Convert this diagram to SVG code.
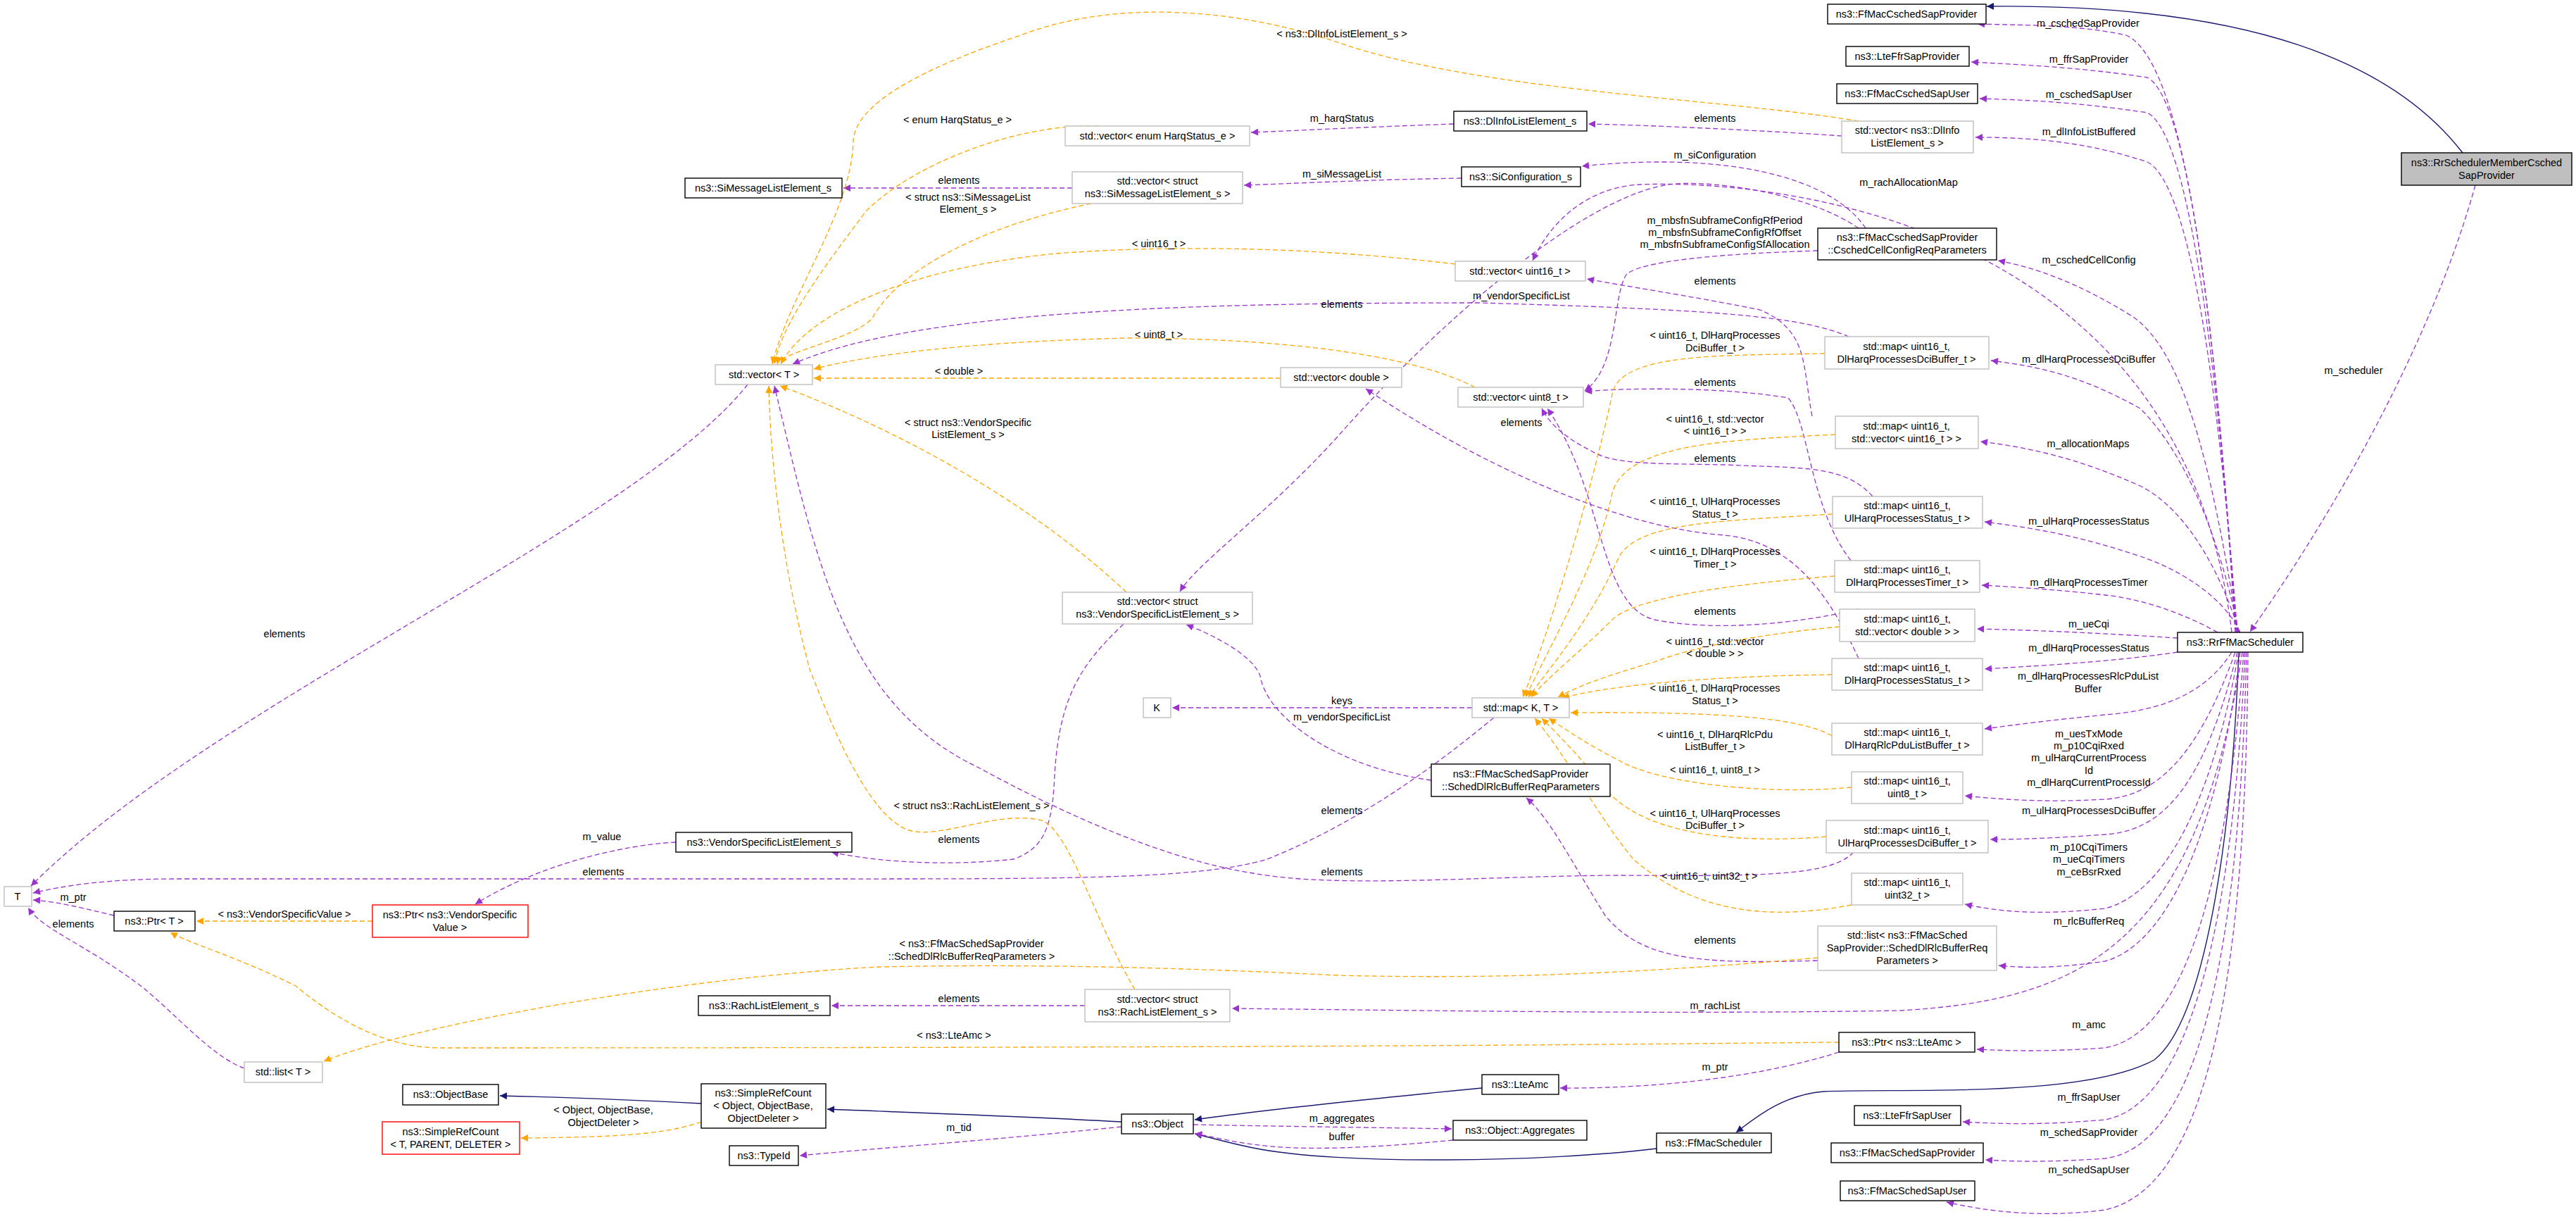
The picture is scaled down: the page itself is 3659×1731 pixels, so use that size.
<svg xmlns="http://www.w3.org/2000/svg" width="3659" height="1731" viewBox="0 0 3659 1731">
<style>
text{font-family:"Liberation Sans",Arial,sans-serif;font-size:14.5px;fill:#000;text-anchor:middle}
.b{fill:#fff;stroke:#000;stroke-width:1.4}
.g{fill:#fff;stroke:#bfbfbf;stroke-width:1.4}
.r{fill:#fff;stroke:#f00;stroke-width:1.4}
.m{fill:#bfbfbf;stroke:#000;stroke-width:1.4}
.u{fill:none;stroke:#9a32cd;stroke-width:1.3;stroke-dasharray:7,4;marker-end:url(#mp)}
.t{fill:none;stroke:#ffa500;stroke-width:1.3;stroke-dasharray:7,4;marker-end:url(#mo)}
.i{fill:none;stroke:#191970;stroke-width:1.4;marker-end:url(#mb)}
</style>
<defs>
<marker id="mp" viewBox="0 0 10 10" refX="10" refY="5" markerWidth="12" markerHeight="10" markerUnits="userSpaceOnUse" orient="auto"><path d="M0,0L10,5L0,10z" fill="#9a32cd"/></marker>
<marker id="mo" viewBox="0 0 10 10" refX="10" refY="5" markerWidth="12" markerHeight="10" markerUnits="userSpaceOnUse" orient="auto"><path d="M0,0L10,5L0,10z" fill="#ffa500"/></marker>
<marker id="mb" viewBox="0 0 10 10" refX="10" refY="5" markerWidth="12" markerHeight="10" markerUnits="userSpaceOnUse" orient="auto"><path d="M0,0L10,5L0,10z" fill="#191970"/></marker>
</defs>
<rect width="3659" height="1731" fill="#fff"/>
<g id="connectors">
<path class="i" d="M3498,217 C3400,90 3200,5 2822,9"/>
<path class="i" d="M3180,926 C3170,1200 3130,1450 3060,1505 C2960,1560 2700,1545 2590,1550 C2530,1555 2490,1590 2466,1608"/>
<path class="i" d="M2353,1631 C2200,1650 1900,1655 1780,1630 C1740,1622 1715,1614 1697,1610"/>
<path class="i" d="M2105,1545 C1950,1560 1800,1575 1697,1590"/>
<path class="i" d="M1593,1593 C1450,1585 1300,1580 1175,1575"/>
<path class="i" d="M996,1567 C900,1562 800,1558 710,1556"/>

<path class="u" d="M3175,898 C3150,500 3110,90 3020,50 C2950,35 2880,36 2809,34"/>
<path class="u" d="M3176,898 C3150,500 3110,140 3050,110 C2950,95 2870,92 2800,88"/>
<path class="u" d="M3177,898 C3150,520 3110,190 3050,160 C2950,145 2880,142 2812,140"/>
<path class="u" d="M3178,898 C3150,540 3110,260 3050,230 C2960,200 2880,195 2806,195"/>
<path class="u" d="M3170,898 C3100,300 2500,255 2330,262 C2250,266 2200,320 2177,370"/>
<path class="u" d="M3179,898 C3140,650 3100,500 3030,450 C2950,400 2890,380 2838,370"/>
<path class="u" d="M3180,898 C3150,750 3100,640 3040,580 C2950,530 2890,520 2828,512"/>
<path class="u" d="M3181,898 C3150,800 3100,720 3040,690 C2950,650 2880,635 2813,627"/>
<path class="u" d="M3182,898 C3160,850 3100,810 3040,790 C2950,760 2890,750 2819,741"/>
<path class="u" d="M3150,898 C3100,870 3040,850 2990,845 C2930,838 2870,834 2815,831"/>
<path class="u" d="M3093,906 C3000,900 2900,895 2808,893"/>
<path class="u" d="M3093,926 C3000,940 2900,945 2819,950"/>
<path class="u" d="M3170,926 C3130,990 3060,1010 2990,1015 C2920,1022 2870,1028 2819,1035"/>
<path class="u" d="M3175,926 C3120,1080 3060,1130 2990,1135 C2900,1140 2840,1135 2791,1130"/>
<path class="u" d="M3178,926 C3130,1120 3070,1180 2990,1185 C2920,1190 2870,1192 2827,1192"/>
<path class="u" d="M3180,926 C3140,1150 3070,1270 2990,1290 C2900,1300 2840,1295 2791,1284"/>
<path class="u" d="M3182,926 C3150,1180 3080,1340 2990,1365 C2920,1375 2880,1375 2839,1371"/>
<path class="u" d="M3185,926 C3120,1350 2950,1420 2700,1435 C2400,1440 2100,1436 1750,1432"/>
<path class="u" d="M3187,926 C3160,1300 3090,1470 2990,1488 C2900,1494 2850,1492 2808,1490"/>
<path class="u" d="M3189,926 C3170,1350 3100,1570 2990,1590 C2900,1598 2840,1596 2788,1593"/>
<path class="u" d="M3191,926 C3180,1400 3110,1630 2990,1645 C2920,1650 2870,1650 2820,1647"/>
<path class="u" d="M3193,926 C3190,1450 3120,1690 2990,1718 C2900,1730 2820,1720 2765,1707"/>
<path class="u" d="M3516,263 C3450,500 3300,750 3196,897"/>

<path class="u" d="M2616,193 C2500,185 2350,178 2256,176"/>
<path class="u" d="M2065,176 C1950,180 1850,185 1777,188"/>
<path class="u" d="M2076,253 C1950,255 1850,260 1767,263"/>
<path class="u" d="M1523,267 L1198,267"/>
<path class="u" d="M2650,324 C2600,250 2450,215 2247,236"/>
<path class="u" d="M2582,356 C2450,360 2330,370 2310,390 C2290,420 2300,520 2251,555"/>
<path class="u" d="M2640,324 C2560,270 2420,255 2370,262 C2250,280 2050,450 1900,620 C1800,730 1700,800 1676,840"/>
<path class="u" d="M2574,591 C2560,520 2570,470 2500,440 C2400,420 2300,405 2254,396"/>
<path class="u" d="M2626,478 C2560,450 2450,440 2100,430 C1700,430 1300,440 1126,517"/>
<path class="u" d="M2629,796 C2570,720 2570,600 2540,565 C2450,550 2320,550 2251,556"/>
<path class="u" d="M2660,705 C2620,660 2560,665 2450,660 C2350,658 2290,660 2260,640 C2220,620 2200,600 2190,580"/>
<path class="u" d="M2640,935 C2600,850 2550,770 2450,760 C2300,750 2100,660 1940,552"/>
<path class="u" d="M2640,865 C2580,880 2450,900 2350,880 C2270,860 2280,700 2198,580"/>
<path class="u" d="M2091,1005 L1665,1005"/>
<path class="u" d="M2033,1108 C1900,1090 1800,1020 1790,960 C1780,930 1720,900 1685,887"/>
<path class="u" d="M2582,1364 C2400,1370 2330,1360 2280,1300 C2230,1220 2200,1160 2168,1133"/>
<path class="u" d="M2122,1019 C2000,1120 1900,1180 1800,1220 C1700,1250 1500,1248 1100,1248 L250,1248 C150,1248 90,1258 47,1268"/>
<path class="u" d="M2633,1210 C2600,1245 2500,1244 2300,1243 C2100,1244 1900,1262 1780,1240 C1650,1220 1500,1150 1390,1090 C1200,1000 1160,800 1100,548"/>
<path class="u" d="M1596,886 C1540,940 1505,983 1498,1100 C1495,1180 1480,1205 1440,1220 C1350,1230 1250,1225 1181,1210"/>
<path class="u" d="M1541,1428 L1181,1428"/>
<path class="u" d="M1062,546 C900,750 300,1000 44,1258"/>
<path class="u" d="M960,1196 C880,1200 760,1230 675,1284"/>
<path class="u" d="M162,1300 C120,1290 80,1280 47,1278"/>
<path class="u" d="M347,1517 C300,1500 250,1440 200,1400 C120,1340 60,1320 40,1289"/>
<path class="u" d="M1695,1597 C1850,1600 1950,1601 2062,1603"/>
<path class="u" d="M2064,1619 C1950,1630 1850,1635 1780,1625 C1740,1620 1720,1613 1697,1610"/>
<path class="u" d="M1593,1600 C1400,1620 1250,1630 1136,1641"/>
<path class="u" d="M2612,1494 C2500,1530 2350,1546 2216,1545"/>

<path class="t" d="M2640,172 C2450,140 2100,130 1900,60 C1750,10 1580,0 1450,50 C1300,100 1215,150 1212,200 C1210,300 1120,420 1097,517"/>
<path class="t" d="M1560,179 C1450,175 1300,230 1230,300 C1170,380 1110,460 1100,517"/>
<path class="t" d="M1550,289 C1400,320 1280,380 1240,450 C1220,480 1108,500 1104,517"/>
<path class="t" d="M2067,375 C1900,355 1700,345 1500,360 C1300,380 1150,440 1109,517"/>
<path class="t" d="M2095,550 C2000,500 1800,480 1600,480 C1400,485 1250,500 1156,524"/>
<path class="t" d="M1819,537 L1156,537"/>
<path class="t" d="M1600,841 C1450,700 1250,600 1108,548"/>
<path class="t" d="M1612,1405 C1560,1320 1520,1180 1480,1165 C1420,1150 1340,1190 1295,1180 C1230,1165 1170,1000 1150,950 C1110,800 1094,650 1092,548"/>
<path class="t" d="M2592,502 C2450,505 2300,500 2290,560 C2260,700 2200,900 2163,990"/>
<path class="t" d="M2607,617 C2450,625 2310,630 2290,700 C2270,800 2200,920 2167,990"/>
<path class="t" d="M2603,730 C2450,740 2330,740 2300,790 C2260,880 2200,950 2171,990"/>
<path class="t" d="M2606,818 C2450,830 2320,850 2290,880 C2240,930 2200,960 2175,990"/>
<path class="t" d="M2613,890 C2500,900 2400,920 2350,940 C2280,960 2240,975 2213,990"/>
<path class="t" d="M2602,958 C2450,960 2300,970 2219,991"/>
<path class="t" d="M2602,1045 C2560,1020 2450,1010 2231,1012"/>
<path class="t" d="M2630,1118 C2500,1130 2350,1110 2300,1080 C2260,1060 2230,1040 2200,1020"/>
<path class="t" d="M2594,1188 C2450,1200 2330,1180 2280,1120 C2250,1080 2210,1040 2190,1020"/>
<path class="t" d="M2630,1285 C2500,1310 2400,1290 2320,1220 C2270,1160 2230,1080 2180,1020"/>
<path class="t" d="M529,1308 L279,1308"/>
<path class="t" d="M2612,1480 L2400,1482 C1800,1488 800,1488 625,1488 C550,1488 480,1450 420,1400 C340,1360 270,1340 242,1324"/>
<path class="t" d="M2582,1360 C2300,1385 2100,1390 1900,1385 C1600,1370 1400,1370 1250,1373 C1000,1385 600,1450 460,1507"/>
<path class="t" d="M996,1593 C950,1610 880,1615 740,1616"/>

<text x="2966" y="38">m_cschedSapProvider</text>
<text x="2967" y="89">m_ffrSapProvider</text>
<text x="2967" y="139">m_cschedSapUser</text>
<text x="2967" y="192">m_dlInfoListBuffered</text>
<text x="2711" y="264">m_rachAllocationMap</text>
<text x="2967" y="374">m_cschedCellConfig</text>
<text x="2967" y="515">m_dlHarqProcessesDciBuffer</text>
<text x="3343" y="531">m_scheduler</text>
<text x="2966" y="635">m_allocationMaps</text>
<text x="2967" y="745">m_ulHarqProcessesStatus</text>
<text x="2967" y="832">m_dlHarqProcessesTimer</text>
<text x="2967" y="891">m_ueCqi</text>
<text x="2967" y="925">m_dlHarqProcessesStatus</text>
<text x="2966" y="965">m_dlHarqProcessesRlcPduList</text>
<text x="2966" y="983">Buffer</text>
<text x="2967" y="1047">m_uesTxMode</text>
<text x="2967" y="1064">m_p10CqiRxed</text>
<text x="2967" y="1081">m_ulHarqCurrentProcess</text>
<text x="2967" y="1099">Id</text>
<text x="2967" y="1116">m_dlHarqCurrentProcessId</text>
<text x="2967" y="1156">m_ulHarqProcessesDciBuffer</text>
<text x="2967" y="1208">m_p10CqiTimers</text>
<text x="2967" y="1225">m_ueCqiTimers</text>
<text x="2967" y="1243">m_ceBsrRxed</text>
<text x="2967" y="1313">m_rlcBufferReq</text>
<text x="2967" y="1460">m_amc</text>
<text x="2967" y="1563">m_ffrSapUser</text>
<text x="2967" y="1613">m_schedSapProvider</text>
<text x="2967" y="1666">m_schedSapUser</text>
<text x="2436" y="1433">m_rachList</text>
<text x="2436" y="1520">m_ptr</text>
<text x="1906" y="53">&lt; ns3::DlInfoListElement_s &gt;</text>
<text x="1906" y="173">m_harqStatus</text>
<text x="2436" y="173">elements</text>
<text x="1906" y="252">m_siMessageList</text>
<text x="2436" y="225">m_siConfiguration</text>
<text x="2450" y="318">m_mbsfnSubframeConfigRfPeriod</text>
<text x="2450" y="335">m_mbsfnSubframeConfigRfOffset</text>
<text x="2450" y="352">m_mbsfnSubframeConfigSfAllocation</text>
<text x="1646" y="351">&lt; uint16_t &gt;</text>
<text x="2436" y="404">elements</text>
<text x="2161" y="425">m_vendorSpecificList</text>
<text x="1906" y="437">elements</text>
<text x="1646" y="480">&lt; uint8_t &gt;</text>
<text x="2436" y="481">&lt; uint16_t, DlHarqProcesses</text>
<text x="2436" y="499">DciBuffer_t &gt;</text>
<text x="2436" y="548">elements</text>
<text x="2161" y="605">elements</text>
<text x="2436" y="600">&lt; uint16_t, std::vector</text>
<text x="2436" y="617">&lt; uint16_t &gt; &gt;</text>
<text x="2436" y="656">elements</text>
<text x="2436" y="717">&lt; uint16_t, UlHarqProcesses</text>
<text x="2436" y="735">Status_t &gt;</text>
<text x="2436" y="788">&lt; uint16_t, DlHarqProcesses</text>
<text x="2436" y="806">Timer_t &gt;</text>
<text x="2436" y="873">elements</text>
<text x="2436" y="916">&lt; uint16_t, std::vector</text>
<text x="2436" y="933">&lt; double &gt; &gt;</text>
<text x="2436" y="982">&lt; uint16_t, DlHarqProcesses</text>
<text x="2436" y="1000">Status_t &gt;</text>
<text x="1906" y="1000">keys</text>
<text x="1906" y="1023">m_vendorSpecificList</text>
<text x="2436" y="1048">&lt; uint16_t, DlHarqRlcPdu</text>
<text x="2436" y="1065">ListBuffer_t &gt;</text>
<text x="2436" y="1098">&lt; uint16_t, uint8_t &gt;</text>
<text x="2436" y="1160">&lt; uint16_t, UlHarqProcesses</text>
<text x="2436" y="1177">DciBuffer_t &gt;</text>
<text x="1906" y="1156">elements</text>
<text x="1906" y="1243">elements</text>
<text x="2428" y="1249">&lt; uint16_t, uint32_t &gt;</text>
<text x="2436" y="1340">elements</text>
<text x="1906" y="1593">m_aggregates</text>
<text x="1906" y="1619">buffer</text>
<text x="1362" y="1606">m_tid</text>
<text x="1360" y="175">&lt; enum HarqStatus_e &gt;</text>
<text x="1362" y="261">elements</text>
<text x="1375" y="285">&lt; struct ns3::SiMessageList</text>
<text x="1375" y="302">Element_s &gt;</text>
<text x="1362" y="532">&lt; double &gt;</text>
<text x="1375" y="605">&lt; struct ns3::VendorSpecific</text>
<text x="1375" y="622">ListElement_s &gt;</text>
<text x="404" y="905">elements</text>
<text x="1380" y="1149">&lt; struct ns3::RachListElement_s &gt;</text>
<text x="855" y="1193">m_value</text>
<text x="1362" y="1197">elements</text>
<text x="857" y="1243">elements</text>
<text x="104" y="1279">m_ptr</text>
<text x="104" y="1317">elements</text>
<text x="404" y="1303">&lt; ns3::VendorSpecificValue &gt;</text>
<text x="1380" y="1345">&lt; ns3::FfMacSchedSapProvider</text>
<text x="1380" y="1363">::SchedDlRlcBufferReqParameters &gt;</text>
<text x="1362" y="1423">elements</text>
<text x="1355" y="1475">&lt; ns3::LteAmc &gt;</text>
<text x="857" y="1581">&lt; Object, ObjectBase,</text>
<text x="857" y="1599">ObjectDeleter &gt;</text>
</g>

<g id="n_rrmember"><rect class="m" x="3411" y="217" width="242" height="46"/><text x="3532" y="236">ns3::RrSchedulerMemberCsched</text><text x="3532" y="254">SapProvider</text></g>
<g id="n_cschedProv"><rect class="b" x="2596" y="6" width="225" height="28"/><text x="2708" y="25">ns3::FfMacCschedSapProvider</text></g>
<g id="n_ffrProv"><rect class="b" x="2622" y="66" width="175" height="28"/><text x="2709" y="85">ns3::LteFfrSapProvider</text></g>
<g id="n_cschedUser"><rect class="b" x="2609" y="119" width="200" height="28"/><text x="2709" y="138">ns3::FfMacCschedSapUser</text></g>
<g id="n_vecDlInfo"><rect class="g" x="2616" y="172" width="187" height="45"/><text x="2709" y="190">std::vector&lt; ns3::DlInfo</text><text x="2709" y="208">ListElement_s &gt;</text></g>
<g id="n_cellCfg"><rect class="b" x="2582" y="324" width="254" height="45"/><text x="2709" y="342">ns3::FfMacCschedSapProvider</text><text x="2709" y="360">::CschedCellConfigReqParameters</text></g>
<g id="n_mapDci"><rect class="g" x="2592" y="478" width="233" height="46"/><text x="2708" y="497">std::map&lt; uint16_t,</text><text x="2708" y="515">DlHarqProcessesDciBuffer_t &gt;</text></g>
<g id="n_mapVec16"><rect class="g" x="2607" y="591" width="203" height="46"/><text x="2708" y="610">std::map&lt; uint16_t,</text><text x="2708" y="628">std::vector&lt; uint16_t &gt; &gt;</text></g>
<g id="n_mapUlStat"><rect class="g" x="2603" y="705" width="213" height="45"/><text x="2709" y="723">std::map&lt; uint16_t,</text><text x="2709" y="741">UlHarqProcessesStatus_t &gt;</text></g>
<g id="n_mapDlTimer"><rect class="g" x="2606" y="796" width="206" height="45"/><text x="2709" y="814">std::map&lt; uint16_t,</text><text x="2709" y="832">DlHarqProcessesTimer_t &gt;</text></g>
<g id="n_mapVecD"><rect class="g" x="2613" y="865" width="192" height="46"/><text x="2709" y="884">std::map&lt; uint16_t,</text><text x="2709" y="902">std::vector&lt; double &gt; &gt;</text></g>
<g id="n_mapDlStat"><rect class="g" x="2602" y="935" width="214" height="45"/><text x="2709" y="953">std::map&lt; uint16_t,</text><text x="2709" y="971">DlHarqProcessesStatus_t &gt;</text></g>
<g id="n_sched"><rect class="b" x="3093" y="898" width="178" height="28"/><text x="3182" y="917">ns3::RrFfMacScheduler</text></g>
<g id="n_mapRlc"><rect class="g" x="2602" y="1027" width="214" height="45"/><text x="2709" y="1045">std::map&lt; uint16_t,</text><text x="2709" y="1063">DlHarqRlcPduListBuffer_t &gt;</text></g>
<g id="n_mapU8"><rect class="g" x="2630" y="1096" width="158" height="45"/><text x="2709" y="1114">std::map&lt; uint16_t,</text><text x="2709" y="1132">uint8_t &gt;</text></g>
<g id="n_mapUlDci"><rect class="g" x="2594" y="1165" width="230" height="46"/><text x="2709" y="1184">std::map&lt; uint16_t,</text><text x="2709" y="1202">UlHarqProcessesDciBuffer_t &gt;</text></g>
<g id="n_mapU32"><rect class="g" x="2630" y="1240" width="158" height="45"/><text x="2709" y="1258">std::map&lt; uint16_t,</text><text x="2709" y="1276">uint32_t &gt;</text></g>
<g id="n_listRlc"><rect class="g" x="2582" y="1315" width="254" height="63"/><text x="2709" y="1333">std::list&lt; ns3::FfMacSched</text><text x="2709" y="1351">SapProvider::SchedDlRlcBufferReq</text><text x="2709" y="1369">Parameters &gt;</text></g>
<g id="n_ptrAmc"><rect class="b" x="2612" y="1466" width="193" height="28"/><text x="2708" y="1485">ns3::Ptr&lt; ns3::LteAmc &gt;</text></g>
<g id="n_ffrUser"><rect class="b" x="2634" y="1570" width="151" height="28"/><text x="2709" y="1589">ns3::LteFfrSapUser</text></g>
<g id="n_schedProv"><rect class="b" x="2601" y="1623" width="216" height="28"/><text x="2709" y="1642">ns3::FfMacSchedSapProvider</text></g>
<g id="n_schedUser"><rect class="b" x="2614" y="1677" width="191" height="28"/><text x="2709" y="1696">ns3::FfMacSchedSapUser</text></g>
<g id="n_ffsched"><rect class="b" x="2353" y="1609" width="163" height="28"/><text x="2434" y="1628">ns3::FfMacScheduler</text></g>
<g id="n_dlInfo"><rect class="b" x="2065" y="158" width="189" height="28"/><text x="2159" y="177">ns3::DlInfoListElement_s</text></g>
<g id="n_vecHarq"><rect class="g" x="1513" y="179" width="262" height="28"/><text x="1644" y="198">std::vector&lt; enum HarqStatus_e &gt;</text></g>
<g id="n_siCfg"><rect class="b" x="2076" y="237" width="169" height="28"/><text x="2160" y="256">ns3::SiConfiguration_s</text></g>
<g id="n_vecSiMsg"><rect class="g" x="1523" y="244" width="242" height="45"/><text x="1644" y="262">std::vector&lt; struct</text><text x="1644" y="280">ns3::SiMessageListElement_s &gt;</text></g>
<g id="n_vec16"><rect class="g" x="2067" y="371" width="185" height="28"/><text x="2159" y="390">std::vector&lt; uint16_t &gt;</text></g>
<g id="n_vecD"><rect class="g" x="1819" y="522" width="172" height="28"/><text x="1905" y="541">std::vector&lt; double &gt;</text></g>
<g id="n_vec8"><rect class="g" x="2071" y="550" width="178" height="28"/><text x="2160" y="569">std::vector&lt; uint8_t &gt;</text></g>
<g id="n_vecVS"><rect class="g" x="1509" y="841" width="270" height="45"/><text x="1644" y="859">std::vector&lt; struct</text><text x="1644" y="877">ns3::VendorSpecificListElement_s &gt;</text></g>
<g id="n_K"><rect class="g" x="1624" y="991" width="39" height="28"/><text x="1643" y="1010">K</text></g>
<g id="n_mapKT"><rect class="g" x="2091" y="991" width="138" height="28"/><text x="2160" y="1010">std::map&lt; K, T &gt;</text></g>
<g id="n_schedDlRlc"><rect class="b" x="2033" y="1085" width="254" height="46"/><text x="2160" y="1104">ns3::FfMacSchedSapProvider</text><text x="2160" y="1122">::SchedDlRlcBufferReqParameters</text></g>
<g id="n_vecRach"><rect class="g" x="1541" y="1405" width="206" height="46"/><text x="1644" y="1424">std::vector&lt; struct</text><text x="1644" y="1442">ns3::RachListElement_s &gt;</text></g>
<g id="n_lteAmc"><rect class="b" x="2105" y="1526" width="109" height="28"/><text x="2159" y="1545">ns3::LteAmc</text></g>
<g id="n_object"><rect class="b" x="1593" y="1582" width="102" height="28"/><text x="1644" y="1601">ns3::Object</text></g>
<g id="n_aggr"><rect class="b" x="2064" y="1591" width="190" height="28"/><text x="2159" y="1610">ns3::Object::Aggregates</text></g>
<g id="n_siMsg"><rect class="b" x="973" y="253" width="223" height="28"/><text x="1084" y="272">ns3::SiMessageListElement_s</text></g>
<g id="n_vecT"><rect class="g" x="1016" y="518" width="138" height="28"/><text x="1085" y="537">std::vector&lt; T &gt;</text></g>
<g id="n_vsElem"><rect class="b" x="960" y="1182" width="250" height="28"/><text x="1085" y="1201">ns3::VendorSpecificListElement_s</text></g>
<g id="n_T"><rect class="g" x="6" y="1259" width="39" height="28"/><text x="25" y="1278">T</text></g>
<g id="n_ptrT"><rect class="b" x="162" y="1294" width="115" height="28"/><text x="219" y="1313">ns3::Ptr&lt; T &gt;</text></g>
<g id="n_ptrVS"><rect class="r" x="529" y="1285" width="221" height="46"/><text x="639" y="1304">ns3::Ptr&lt; ns3::VendorSpecific</text><text x="639" y="1322">Value &gt;</text></g>
<g id="n_rach"><rect class="b" x="992" y="1414" width="187" height="28"/><text x="1085" y="1433">ns3::RachListElement_s</text></g>
<g id="n_listT"><rect class="g" x="347" y="1508" width="111" height="29"/><text x="402" y="1527">std::list&lt; T &gt;</text></g>
<g id="n_objBase"><rect class="b" x="572" y="1540" width="136" height="29"/><text x="640" y="1559">ns3::ObjectBase</text></g>
<g id="n_src"><rect class="b" x="996" y="1539" width="177" height="63"/><text x="1084" y="1557">ns3::SimpleRefCount</text><text x="1084" y="1575">&lt; Object, ObjectBase,</text><text x="1084" y="1593">ObjectDeleter &gt;</text></g>
<g id="n_srcT"><rect class="r" x="543" y="1593" width="195" height="46"/><text x="640" y="1612">ns3::SimpleRefCount</text><text x="640" y="1630">&lt; T, PARENT, DELETER &gt;</text></g>
<g id="n_typeId"><rect class="b" x="1036" y="1627" width="98" height="28"/><text x="1085" y="1646">ns3::TypeId</text></g>
</svg>
